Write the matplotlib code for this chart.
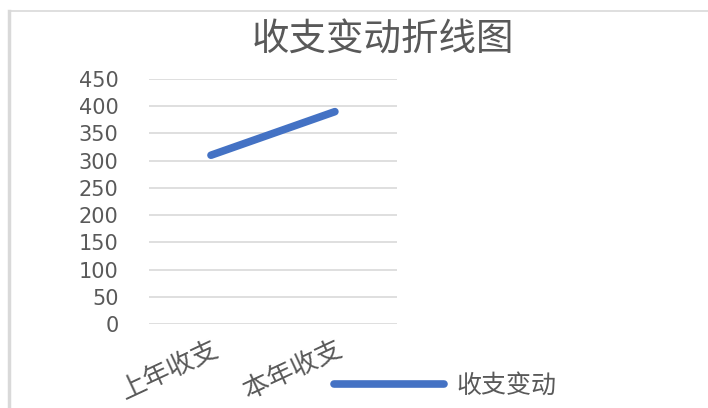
import matplotlib
matplotlib.use('Agg')
from matplotlib import pyplot as plt
from matplotlib.lines import Line2D

plt.rcParams['font.family'] = ['Noto Sans CJK SC', 'DejaVu Sans']

TITLE = '收支变动折线图'
CATEGORIES = ['上年收支', '本年收支']
VALUES = [310, 390]
SERIES_NAME = '收支变动'
Y_TICKS = [0, 50, 100, 150, 200, 250, 300, 350, 400, 450]

LINE_COLOR = '#4472C4'
GRID_COLOR = '#D9D9D9'
TEXT_COLOR = '#595959'

fig = plt.figure(figsize=(7.08, 4.08), dpi=100)
fig.patch.set_facecolor('white')

# chart-area frame (top and left edges visible)
fig.add_artist(Line2D([0.013, 1.0], [0.973, 0.973], color=GRID_COLOR, lw=1.2))
fig.add_artist(Line2D([0.013, 0.013], [0.0, 0.973], color=GRID_COLOR, lw=2.5))

ax = fig.add_axes([0.2105, 0.2059, 0.350, 0.6005])
x = list(range(len(CATEGORIES)))
ax.plot(x, VALUES, color=LINE_COLOR, lw=5.5, solid_capstyle='round',
        label=SERIES_NAME)

ax.set_xlim(-0.5, len(CATEGORIES) - 0.5)
ax.set_ylim(0, 450)
ax.set_yticks(Y_TICKS)
ax.set_yticklabels([str(t) for t in Y_TICKS], fontsize=15, color=TEXT_COLOR,
                   family='DejaVu Sans')
ax.set_xticks(x)
ax.set_xticklabels(CATEGORIES, fontsize=19, color=TEXT_COLOR,
                   rotation=25, ha='right', va='top', rotation_mode='anchor')
ax.tick_params(length=0)
ax.tick_params(axis='y', pad=22)
ax.tick_params(axis='x', pad=8)
ax.grid(True, axis='y', color=GRID_COLOR, lw=1.2)
ax.set_axisbelow(True)
for s in ax.spines.values():
    s.set_visible(False)

fig.text(0.541, 0.902, TITLE, fontsize=27, color=TEXT_COLOR,
         ha='center', va='center')

fig.legend(loc='center left', bbox_to_anchor=(0.44, 0.054), frameon=False,
           handlelength=4.4, handletextpad=0.5,
           labelcolor=TEXT_COLOR, prop={'size': 18})

fig.savefig('out.png', dpi=100)
plt.close()
